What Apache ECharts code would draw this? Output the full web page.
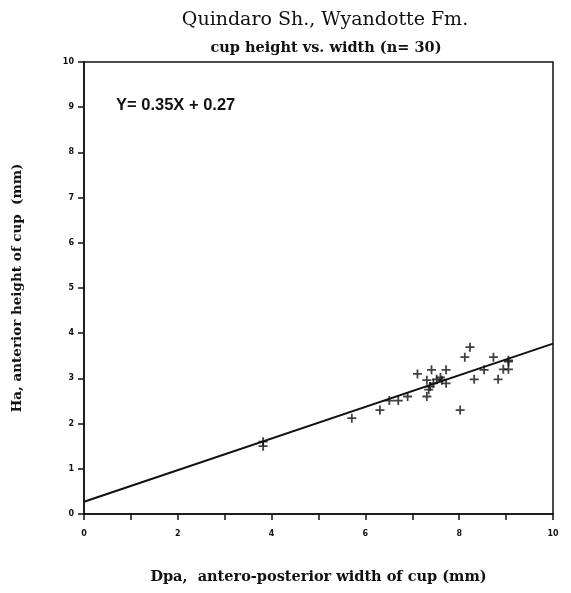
<!DOCTYPE html>
<html><head><meta charset="utf-8">
<script src="https://cdn.jsdelivr.net/npm/echarts@6/dist/echarts.min.js"></script>
<style>html,body{margin:0;padding:0;background:#fff}#c{width:571px;height:593px}</style>
</head><body><div id="c"></div>
<script>
var widthX = [3.82, 3.82, 5.71, 6.31, 6.51, 6.70, 6.90, 7.11, 7.31, 7.31, 7.41, 7.38, 7.45, 7.52, 7.63, 7.72, 7.72, 8.02, 8.12, 8.23, 8.32, 8.53, 8.73, 8.83, 8.94, 9.05, 9.05, 9.05, 7.35, 7.60];
var heightY = [1.60, 1.50, 2.12, 2.30, 2.51, 2.51, 2.60, 3.10, 2.60, 2.96, 3.19, 2.82, 2.89, 2.98, 2.96, 3.19, 2.89, 2.30, 3.47, 3.69, 2.98, 3.19, 3.47, 2.98, 3.20, 3.20, 3.37, 3.40, 2.75, 3.02];
var slope = 0.35, intercept = 0.27;
var lineX = [0, 10];
var xTicks = [0, 2, 4, 6, 8, 10];
var titleText = 'Quindaro Sh., Wyandotte Fm.';
var subText = 'cup height vs. width (n= 30)';
var eqText = 'Y= 0.35X + 0.27';

var pts = widthX.map(function(x, i){ return [x, heightY[i]]; });
var linePts = lineX.map(function(x){ return [x, slope * x + intercept]; });
var plus = 'path://M4,0H6V4H10V6H6V10H4V6H0V4H4Z';
var chart = echarts.init(document.getElementById('c'));
chart.setOption({
  animation: false,
  backgroundColor: '#fff',
  title: [
    {text: titleText, left: 320, top: 6, textAlign: 'center',
     textStyle: {fontFamily: 'DejaVu Serif', fontSize: 19, fontWeight: 'normal', color: '#111'}},
    {text: subText, left: 321, top: 36, textAlign: 'center',
     textStyle: {fontFamily: 'DejaVu Serif', fontSize: 14.5, fontWeight: 'bold', color: '#111'}},
    {text: eqText, left: 111, top: 92,
     textStyle: {fontFamily: 'Liberation Sans', fontSize: 16.5, fontWeight: 'bold', color: '#111'}}
  ],
  grid: {left: 84, right: 18, top: 62, bottom: 79, outerBoundsMode: 'none', containLabel: false,
    show: true, borderColor: '#111', borderWidth: 1.5, backgroundColor: 'transparent'},
  xAxis: {
    type: 'value', min: 0, max: 10, interval: 1,
    name: 'Dpa,  antero-posterior width of cup (mm)', nameLocation: 'middle', nameGap: 56,
    nameTextStyle: {fontFamily: 'DejaVu Serif', fontSize: 14.5, fontWeight: 'bold', color: '#111'},
    axisLine: {show: true, onZero: false, lineStyle: {color: '#111', width: 1.5}},
    axisTick: {show: true, length: 6, lineStyle: {color: '#111', width: 1.5}},
    splitLine: {show: false},
    axisLabel: {fontFamily: 'DejaVu Sans', fontWeight: 'bold', fontSize: 8, color: '#111', margin: 16,
      formatter: function(v){ return xTicks.indexOf(v) >= 0 ? String(v) : ''; }}
  },
  yAxis: {
    type: 'value', min: 0, max: 10, interval: 1,
    name: 'Ha, anterior height of cup  (mm)', nameLocation: 'middle', nameGap: 60, nameRotate: 90,
    nameTextStyle: {fontFamily: 'DejaVu Serif', fontSize: 13.5, fontWeight: 'bold', color: '#111'},
    axisLine: {show: true, onZero: false, lineStyle: {color: '#111', width: 1.5}},
    axisTick: {show: true, length: 6, lineStyle: {color: '#111', width: 1.5}},
    splitLine: {show: false},
    axisLabel: {fontFamily: 'DejaVu Sans', fontWeight: 'bold', fontSize: 8, color: '#111', margin: 10}
  },
  series: [
    {type: 'line', data: linePts, symbol: 'none', lineStyle: {color: '#111', width: 2}, silent: true},
    {type: 'scatter', data: pts, symbol: plus, symbolSize: 9, itemStyle: {color: '#111'}}
  ]
});
</script></body></html>
